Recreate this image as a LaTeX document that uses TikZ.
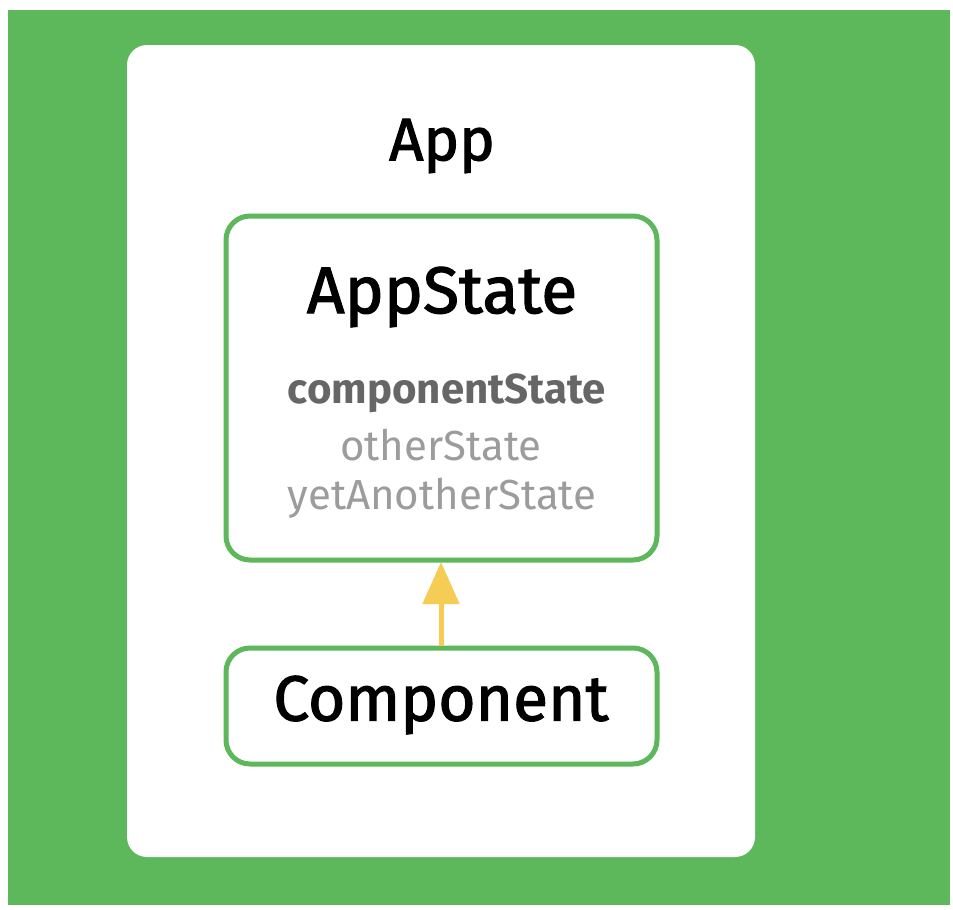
\documentclass[tikz,border=0pt]{standalone}
\usepackage{fontspec}
\setmainfont{Fira Sans}
\newfontfamily\medfont[FakeBold=1.8]{Fira Sans}
\usetikzlibrary{arrows.meta}
\definecolor{bggreen}{HTML}{5CB85A}
\definecolor{boxgreen}{HTML}{5CB85A}
\definecolor{arrowyellow}{HTML}{F5CD55}
\definecolor{darkgrey}{HTML}{666666}
\definecolor{lightgrey}{HTML}{9C9C9C}
\tikzset{
  greenbox/.style={draw=boxgreen, line width=5pt, rounded corners=24pt, fill=white},
  title/.style={font=\medfont\fontsize{64}{66}\selectfont, text=black, inner sep=0pt},
  statetxt/.style={font=\fontsize{42}{44}\selectfont, inner sep=0pt},
}
\begin{document}
\begin{tikzpicture}[x=1pt,y=-1pt]
\useasboundingbox (0,0) rectangle (953,910);
\fill[white] (0,0) rectangle (953,910);
\fill[bggreen] (8,10) rectangle (950,905);
\fill[white, rounded corners=20pt] (127,45) rectangle (755,857);
\node[title, font=\medfont\fontsize{60}{62}\selectfont] (app) at (442,146) {App};
\draw[greenbox] (226,216) rectangle (657,560);
\coordinate (stateBottom) at (441,562);
\node[title, font=\medfont\fontsize{66}{68}\selectfont] (appstate) at (442,297) {AppState};
\node[statetxt, text=darkgrey, font=\bfseries\fontsize{42}{44}\selectfont] (cs) at (447,393) {componentState};
\node[statetxt, text=lightgrey] (os) at (441,445) {otherState};
\draw[greenbox] (226,648) rectangle (657,764);
\node[statetxt, text=lightgrey] (yas) at (442,498) {yetAnotherState};
\node[title] (comp) at (441,705) {Component};
\coordinate (compTop) at (441,646);
\draw[arrowyellow, line width=5pt, -{Triangle[length=42pt,width=36pt]}] (compTop) -- (stateBottom);
\end{tikzpicture}
\end{document}
